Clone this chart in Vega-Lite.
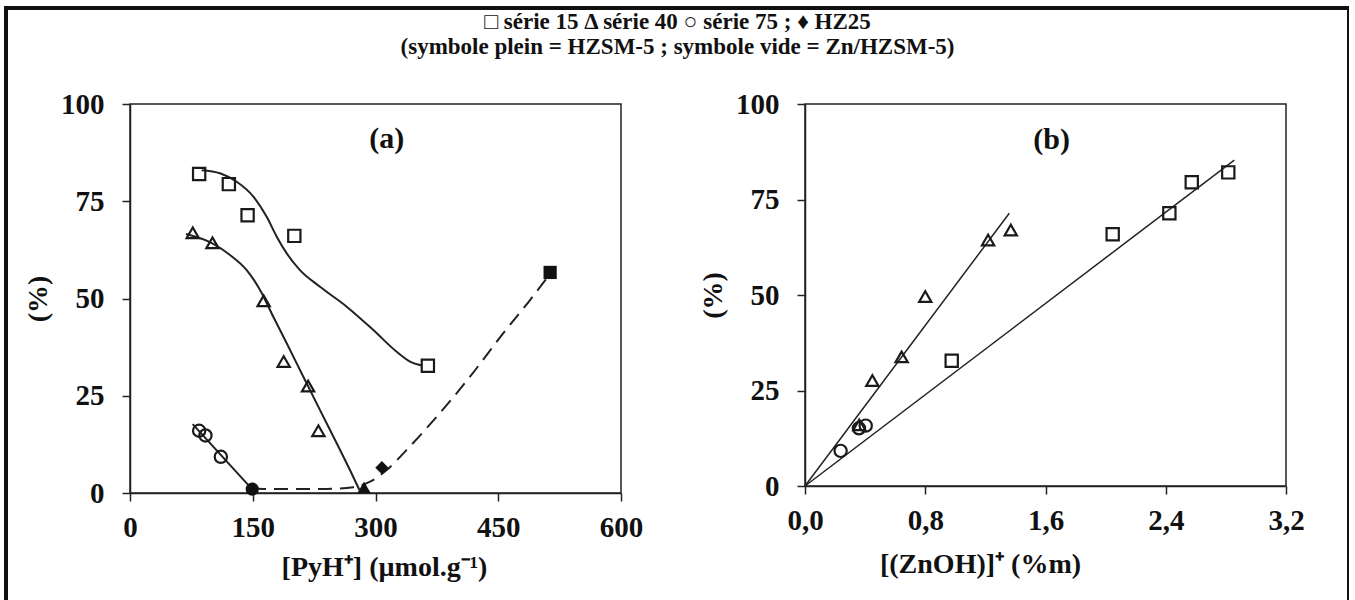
{
  "$schema": "https://vega.github.io/schema/vega-lite/v6.json",
  "autosize": {"type": "none"},
  "padding": {"left": 6, "top": 8, "right": 0, "bottom": 0},
  "width": 1343,
  "height": 620,
  "title": {
    "text": ["□ série 15 Δ série 40 ○ série 75 ; ♦ HZ25", "(symbole plein = HZSM-5 ;  symbole vide = Zn/HZSM-5)"],
    "anchor": "middle", "frame": "group", "orient": "top", "offset": -49,
    "baseline": "alphabetic", "dy": 20,
    "font": "Liberation Serif", "fontSize": 23, "fontWeight": "bold", "lineHeight": 25, "color": "#111"
  },
  "datasets": {
    "frames": [
      {"p": "a", "x": 0, "x2": 600, "y": 0, "y2": 100},
      {"p": "b", "x": 0, "x2": 3.2, "y": 0, "y2": 100}
    ],
    "labels": [
      {"p": "a", "x": 313.7, "y": 91.0, "t": "(a)"},
      {"p": "b", "x": 1.641, "y": 90.6, "t": "(b)"}
    ],
    "pa": [
      {"s": "sq", "f": "o", "x": 84.5, "y": 82.0},
      {"s": "sq", "f": "o", "x": 120.8, "y": 79.4},
      {"s": "sq", "f": "o", "x": 143.7, "y": 71.4},
      {"s": "sq", "f": "o", "x": 200.8, "y": 66.1},
      {"s": "sq", "f": "o", "x": 364.0, "y": 32.7},
      {"s": "tri", "f": "o", "x": 76.7, "y": 66.9},
      {"s": "tri", "f": "o", "x": 100.8, "y": 64.3},
      {"s": "tri", "f": "o", "x": 163.3, "y": 49.4},
      {"s": "tri", "f": "o", "x": 187.8, "y": 33.8},
      {"s": "tri", "f": "o", "x": 217.6, "y": 27.5},
      {"s": "tri", "f": "o", "x": 230.2, "y": 16.0},
      {"s": "cir", "f": "o", "x": 84.5, "y": 16.0},
      {"s": "cir", "f": "o", "x": 92.2, "y": 14.8},
      {"s": "cir", "f": "o", "x": 111.0, "y": 9.3},
      {"s": "tri", "f": "f", "x": 286.0, "y": 1.5},
      {"s": "cir", "f": "f", "x": 149.4, "y": 1.0},
      {"s": "dia", "f": "f", "x": 307.8, "y": 6.5},
      {"s": "sq", "f": "f", "x": 513.4, "y": 56.7}
    ],
    "ca": [
      {"c": "sq", "x": 87.6, "y": 83.0},
      {"c": "sq", "x": 110.0, "y": 82.2},
      {"c": "sq", "x": 130.4, "y": 80.0},
      {"c": "sq", "x": 150.7, "y": 76.2},
      {"c": "sq", "x": 167.0, "y": 71.0},
      {"c": "sq", "x": 179.3, "y": 65.9},
      {"c": "sq", "x": 191.5, "y": 61.6},
      {"c": "sq", "x": 207.7, "y": 57.3},
      {"c": "sq", "x": 232.2, "y": 53.0},
      {"c": "sq", "x": 264.8, "y": 47.9},
      {"c": "sq", "x": 297.3, "y": 41.9},
      {"c": "sq", "x": 325.9, "y": 36.3},
      {"c": "sq", "x": 342.2, "y": 33.8},
      {"c": "sq", "x": 356.4, "y": 32.8},
      {"c": "tri", "x": 68.4, "y": 66.6},
      {"c": "tri", "x": 100.6, "y": 64.2},
      {"c": "tri", "x": 122.2, "y": 61.2},
      {"c": "tri", "x": 142.6, "y": 57.3},
      {"c": "tri", "x": 158.9, "y": 52.2},
      {"c": "tri", "x": 175.1, "y": 45.3},
      {"c": "tri", "x": 191.5, "y": 38.5},
      {"c": "tri", "x": 211.8, "y": 29.9},
      {"c": "tri", "x": 232.2, "y": 21.3},
      {"c": "tri", "x": 252.6, "y": 12.8},
      {"c": "tri", "x": 268.8, "y": 5.9},
      {"c": "tri", "x": 280.3, "y": 0.8},
      {"c": "cir", "x": 76.6, "y": 17.7},
      {"c": "cir", "x": 149.1, "y": 1.0},
      {"c": "dash", "x": 149.1, "y": 1.2},
      {"c": "dash", "x": 179.3, "y": 1.0},
      {"c": "dash", "x": 232.2, "y": 1.0},
      {"c": "dash", "x": 272.9, "y": 1.5},
      {"c": "dash", "x": 293.3, "y": 2.9},
      {"c": "dash", "x": 313.7, "y": 5.9},
      {"c": "dash", "x": 338.1, "y": 11.1},
      {"c": "dash", "x": 374.8, "y": 19.6},
      {"c": "dash", "x": 415.5, "y": 29.9},
      {"c": "dash", "x": 456.2, "y": 41.1},
      {"c": "dash", "x": 488.8, "y": 49.6},
      {"c": "dash", "x": 509.2, "y": 55.2}
    ],
    "pb": [
      {"s": "tri", "x": 0.361, "y": 16.0},
      {"s": "tri", "x": 0.448, "y": 27.6},
      {"s": "tri", "x": 0.643, "y": 33.8},
      {"s": "tri", "x": 0.800, "y": 49.6},
      {"s": "tri", "x": 1.218, "y": 64.4},
      {"s": "tri", "x": 1.369, "y": 67.0},
      {"s": "sq", "x": 0.976, "y": 32.8},
      {"s": "sq", "x": 2.047, "y": 65.9},
      {"s": "sq", "x": 2.424, "y": 71.4},
      {"s": "sq", "x": 2.573, "y": 79.5},
      {"s": "sq", "x": 2.816, "y": 82.1},
      {"s": "cir", "x": 0.237, "y": 9.2},
      {"s": "cir", "x": 0.359, "y": 15.1},
      {"s": "cir", "x": 0.404, "y": 15.8}
    ],
    "lb": [
      {"c": "tri", "x": 0, "y": 0},
      {"c": "tri", "x": 1.359, "y": 71.4},
      {"c": "sq", "x": 0, "y": 0},
      {"c": "sq", "x": 2.856, "y": 85.3}
    ]
  },
  "layer": [
    {
      "encoding": {
        "x": {"field": "x", "type": "quantitative",
              "scale": {"domain": [0, 600], "range": [124, 615], "nice": false, "zero": false},
              "axis": {"orient": "bottom", "offset": -135, "values": [0, 150, 300, 450, 600], "title": "[PyH⁺] (µmol.g⁻¹)", "titleX": 378, "titlePadding": 11}},
        "y": {"field": "y", "type": "quantitative",
              "scale": {"domain": [0, 100], "range": [485, 96], "nice": false, "zero": false},
              "axis": {"orient": "left", "offset": -124, "values": [0, 25, 50, 75, 100], "title": "(%)"}}
      },
      "layer": [
        {
          "data": {"name": "frames"},
          "transform": [{"filter": "datum.p == 'a'"}],
          "mark": {"type": "rect", "fill": "transparent", "stroke": "#222", "strokeWidth": 1.5},
          "encoding": {"x2": {"field": "x2"}, "y2": {"field": "y2"}}
        },
        {
          "data": {"name": "ca"},
          "transform": [{"filter": "datum.c != 'dash'"}],
          "mark": {"type": "line", "interpolate": "monotone", "color": "#222", "strokeWidth": 2},
          "encoding": {"detail": {"field": "c", "type": "nominal"}}
        },
        {
          "data": {"name": "ca"},
          "transform": [{"filter": "datum.c == 'dash'"}],
          "mark": {"type": "line", "interpolate": "monotone", "color": "#222", "strokeWidth": 2, "strokeDash": [14, 8]},
          "encoding": {}
        },
        {
          "data": {"name": "pa"},
          "transform": [{"filter": "datum.f == 'o'"}],
          "mark": {"type": "point", "filled": false, "color": "#1a1a1a", "strokeWidth": 2.2, "opacity": 1},
          "encoding": {
            "shape": {"field": "s", "type": "nominal", "legend": null,
                      "scale": {"domain": ["sq", "tri", "cir", "dia"], "range": ["square", "triangle-up", "circle", "diamond"]}},
            "size": {"field": "s", "type": "nominal", "legend": null,
                     "scale": {"domain": ["sq", "tri", "cir", "dia"], "range": [150, 150, 120, 170]}}
          }
        },
        {
          "data": {"name": "pa"},
          "transform": [{"filter": "datum.f == 'f'"}],
          "mark": {"type": "point", "filled": true, "color": "#111", "opacity": 1, "size": 175},
          "encoding": {
            "shape": {"field": "s", "type": "nominal", "legend": null}
          }
        },
        {
          "data": {"name": "labels"},
          "transform": [{"filter": "datum.p == 'a'"}],
          "mark": {"type": "text", "font": "Liberation Serif", "fontSize": 30, "fontWeight": "bold", "align": "center", "baseline": "middle", "color": "#111"},
          "encoding": {"text": {"field": "t"}}
        }
      ]
    },
    {
      "encoding": {
        "x": {"field": "x", "type": "quantitative",
              "scale": {"domain": [0, 3.2], "range": [799, 1280], "nice": false, "zero": false},
              "axis": {"orient": "bottom", "offset": -142, "values": [0, 0.8, 1.6, 2.4, 3.2],
                       "labelExpr": "replace(format(datum.value, '.1f'), '.', ',')", "title": "[(ZnOH)]⁺ (%m)", "titleX": 974, "titlePadding": 15}},
        "y": {"field": "y", "type": "quantitative",
              "scale": {"domain": [0, 100], "range": [478, 96], "nice": false, "zero": false},
              "axis": {"orient": "left", "offset": -799, "values": [0, 25, 50, 75, 100], "title": "(%)"}}
      },
      "layer": [
        {
          "data": {"name": "frames"},
          "transform": [{"filter": "datum.p == 'b'"}],
          "mark": {"type": "rect", "fill": "transparent", "stroke": "#222", "strokeWidth": 1.5},
          "encoding": {"x2": {"field": "x2"}, "y2": {"field": "y2"}}
        },
        {
          "data": {"name": "lb"},
          "mark": {"type": "line", "color": "#222", "strokeWidth": 1.5},
          "encoding": {"detail": {"field": "c", "type": "nominal"}}
        },
        {
          "data": {"name": "pb"},
          "mark": {"type": "point", "filled": false, "color": "#1a1a1a", "strokeWidth": 2.2, "opacity": 1},
          "encoding": {
            "shape": {"field": "s", "type": "nominal", "legend": null},
            "size": {"field": "s", "type": "nominal", "legend": null}
          }
        },
        {
          "data": {"name": "labels"},
          "transform": [{"filter": "datum.p == 'b'"}],
          "mark": {"type": "text", "font": "Liberation Serif", "fontSize": 30, "fontWeight": "bold", "align": "center", "baseline": "middle", "color": "#111"},
          "encoding": {"text": {"field": "t"}}
        }
      ]
    }
  ],
  "resolve": {
    "scale": {"x": "independent", "y": "independent"},
    "axis": {"x": "independent", "y": "independent"}
  },
  "config": {
    "view": {"stroke": "#111", "strokeWidth": 4},
    "axis": {
      "grid": false, "domainColor": "#222", "domainWidth": 1.5, "tickColor": "#222", "tickWidth": 1.5, "tickSize": 8,
      "labelFont": "Liberation Serif", "labelFontSize": 29, "labelFontWeight": "bold", "labelColor": "#111",
      "labelFlush": false, "labelOverlap": false,
      "titleFont": "Liberation Serif", "titleFontSize": 28, "titleFontWeight": "bold", "titleColor": "#111"
    },
    "axisX": {"labelPadding": 12, "titlePadding": 9},
    "axisY": {"labelPadding": 18, "titlePadding": 8}
  }
}
